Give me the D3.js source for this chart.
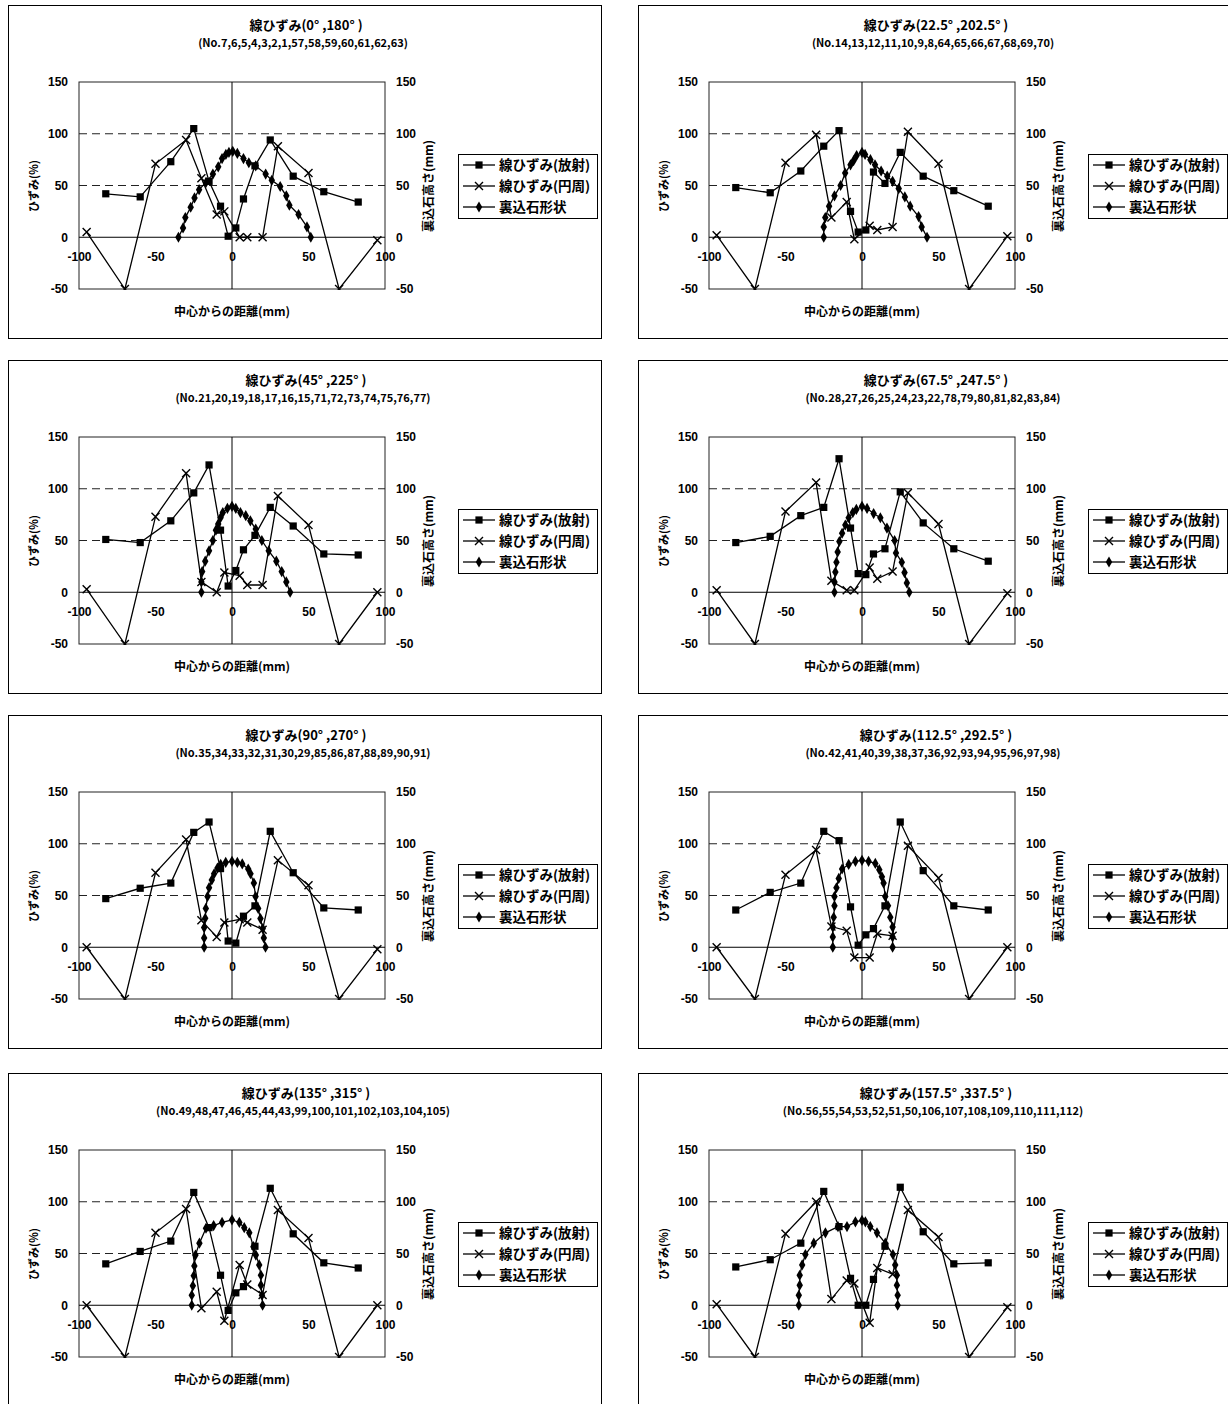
<!DOCTYPE html>
<html><head><meta charset="utf-8">
<script src="https://cdn.jsdelivr.net/npm/d3@7"></script>
<style>
body{margin:0;background:#fff;}
svg{display:block;}
</style></head>
<body>
<svg id="chart" width="1228" height="1404"></svg>
<script>
// ---- data ----
const titles = ["線ひずみ(0° ,180° )","線ひずみ(22.5° ,202.5° )","線ひずみ(45° ,225° )","線ひずみ(67.5° ,247.5° )",
  "線ひずみ(90° ,270° )","線ひずみ(112.5° ,292.5° )","線ひずみ(135° ,315° )","線ひずみ(157.5° ,337.5° )"];
const gaugeNos = ["(No.7,6,5,4,3,2,1,57,58,59,60,61,62,63)","(No.14,13,12,11,10,9,8,64,65,66,67,68,69,70)",
  "(No.21,20,19,18,17,16,15,71,72,73,74,75,76,77)","(No.28,27,26,25,24,23,22,78,79,80,81,82,83,84)",
  "(No.35,34,33,32,31,30,29,85,86,87,88,89,90,91)","(No.42,41,40,39,38,37,36,92,93,94,95,96,97,98)",
  "(No.49,48,47,46,45,44,43,99,100,101,102,103,104,105)","(No.56,55,54,53,52,51,50,106,107,108,109,110,111,112)"];
const seriesNames = ["線ひずみ(放射)","線ひずみ(円周)","裏込石形状"];
const xTicks = [-100,-50,0,50,100];
const yTicks = [-50,0,50,100,150];
const gridValues = [50,100];

const radialX = [-82.5,-60,-40,-25,-15,-7.5,-2.5,2.5,7.5,15,25,40,60,82.5];
const circX = [-95,-70,-50,-30,-20,-10,-5,5,10,20,30,50,70,95];

const radial1 = [42,39,73,105,54,30,1,9,37,69,94,59,44,34];
const radial2 = [48,43,64,88,103,25,5,7,63,52,82,59,45,30];
const radial3 = [51,48,69,96,123,60,6,21,41,55,82,64,37,36];
const radial4 = [48,54,74,82,129,62,18,17,37,42,97,67,42,30];
const radial5 = [47,57,62,111,121,76,6,4,30,40,112,72,38,36];
const radial6 = [36,53,62,112,103,39,2,12,18,40,121,74,40,36];
const radial7 = [40,52,62,109,75,29,-5,12,18,57,113,69,41,36];
const radial8 = [37,44,60,110,76,26,0,0,25,57,114,71,40,41];

const circ1 = [5,-50,71,94,57,22,25,0,0,0,88,62,-50,-3];
const circ2 = [2,-50,72,99,19,34,-2,11,7,10,102,71,-50,1];
const circ3 = [3,-50,73,115,10,0,19,16,7,7,93,65,-50,0];
const circ4 = [2,-50,78,106,11,2,2,24,13,20,96,66,-50,-1];
const circ5 = [0,-50,72,104,26,10,24,27,24,17,84,60,-50,-2];
const circ6 = [0,-50,70,94,20,16,-10,-10,13,11,98,67,-50,0];
const circ7 = [0,-50,70,93,-3,13,-15,39,20,10,92,65,-50,0];
const circ8 = [1,-50,69,100,6,24,21,-17,36,30,92,66,-50,-2];

const stoneX1 = [-35,-32,-30.5,-27,-24.5,-21.5,-17,-12.5,-9,-6.5,-4,-2,0.5,3.5,7.5,11,15.5,22,26,31.5,35.5,37.5,43.5,49,51.5];
const stoneY1 = [0,9,19,29,38,46,53,61,68,76,80,82,83,81,76,72,69,61,55,49,40,31,22,10,0];
const stoneX2 = [-25,-25,-24,-21.5,-18,-14,-11,-7.5,-5.5,-3.5,0,2,5.5,8.5,12.5,16.5,20,24,28,31.5,37,39,42.5];
const stoneY2 = [0,10,19,30,40,50,62,70,74,79,82,80,75,70,64,59,54,47,39,30,20,10,0];
const stoneX3 = [-20,-20,-19.5,-17.5,-15,-12.5,-10.5,-9,-7.5,-6,-3,0,2.5,5.5,9,12,15.5,19.5,24,29,32.5,35.5,38];
const stoneY3 = [0,10,20,30,40,50,60,66,72,77,81,83,81,77,74,69,61,50,40,30,20,10,0];
const stoneX4 = [-18,-18,-17.4,-16.7,-15.9,-14.8,-13,-10.9,-8.7,-6,-3.7,0,3.3,7.6,12,16.3,21.3,22.2,26,27.8,29.3,30.9];
const stoneY4 = [0,10,19.5,29,39,49,57,65,72,77,80,83,81,76,72,62,50,38,29,19,9,0];
const stoneX5 = [-18.2,-18.2,-18.2,-17.5,-17.1,-16,-15,-13.2,-11.7,-9.5,-7.4,-4.1,0,3.5,6.7,10.6,12.1,14.3,15.4,17.1,18.6,20.1,20.8,21.9];
const stoneY5 = [0,9,19,28,37.5,49,57.6,65,71,76.5,80,82,83,82,80.5,75.6,71,62,49,37.5,27.7,18,9,0];
const stoneX6 = [-19.1,-19.1,-19.1,-18.5,-18,-18,-16.7,-15.2,-13,-8.7,-4.3,0,4.3,8.7,11.3,13,14.1,15.2,17,18.5,20,20,20];
const stoneY6 = [0,10,19.5,29,40,49,57.5,66.5,75.6,80,83,84,83,81,75,68,62,49,40,29,19.5,10,0];
const stoneX7 = [-26.3,-26.3,-25.6,-25,-24.6,-23.9,-21.3,-17,-12,-6.5,0,4.8,8,11.3,14,15.6,17.8,18.9,18.9,19.6,20];
const stoneY7 = [0,9.7,18.8,28.5,38,48.5,60,74.4,77,80,82.5,80,75,70,56.6,48.5,39,29,19.4,9.7,0];
const stoneX8 = [-41.3,-41.3,-40.7,-40.7,-39.1,-37,-31.5,-23.9,-15.7,-9.8,-4.3,0,2.2,5.4,9.8,15.2,20.2,21.7,22.8,22.8,23.3,23.3];
const stoneY8 = [0,9.7,19.4,29,39,49,60,70,76,76,80.6,82,80.6,76,70,60,49,39,29,19.4,9.7,0];

const radialSets = [radial1,radial2,radial3,radial4,radial5,radial6,radial7,radial8];
const circSets = [circ1,circ2,circ3,circ4,circ5,circ6,circ7,circ8];
const stoneXSets = [stoneX1,stoneX2,stoneX3,stoneX4,stoneX5,stoneX6,stoneX7,stoneX8];
const stoneYSets = [stoneY1,stoneY2,stoneY3,stoneY4,stoneY5,stoneY6,stoneY7,stoneY8];

// ---- layout ----
const svg = d3.select("#chart");
const panelW = 593, panelH = 333;
const colX = [8, 638];
const rowY = [5, 360, 715, 1073];
const plot = {left: 71, top: 77, w: 306, h: 207};
const CJK = "'Noto Sans CJK JP','Noto Sans',sans-serif";
const NUM = "'Liberation Sans',Arial,sans-serif";

const x = d3.scaleLinear().domain([-100,100]).range([0, plot.w]);
const y = d3.scaleLinear().domain([-50,150]).range([plot.h, 0]);
const yR = d3.scaleLinear().domain([-50,150]).range([plot.h, 0]);

const sqPath = d3.symbol().type(d3.symbolSquare).size(52)();
const diPath = d3.symbol().type(d3.symbolDiamond).size(36)();
const xPath = "M-4,-4L4,4M-4,4L4,-4";

const defs = svg.append("defs");
defs.append("clipPath").attr("id","plotclip").append("rect")
  .attr("x",-1).attr("y",-1).attr("width",plot.w+2).attr("height",plot.h+2);

titles.forEach((t, i) => {
  const g = svg.append("g").attr("transform", `translate(${colX[i%2]},${rowY[Math.floor(i/2)]})`);
  g.append("rect").attr("x",0.5).attr("y",0.5).attr("width",panelW).attr("height",panelH)
    .attr("fill","#fff").attr("stroke","#000").attr("stroke-width",1);

  g.append("text").attr("x",298).attr("y",25).attr("text-anchor","middle")
    .attr("font-family",CJK).attr("font-weight","bold").attr("font-size",13).text(t);
  g.append("text").attr("x",295).attr("y",42).attr("text-anchor","middle")
    .attr("font-family",CJK).attr("font-weight","bold").attr("font-size",11).text(gaugeNos[i]);

  const p = g.append("g").attr("transform",`translate(${plot.left},${plot.top})`);
  p.append("rect").attr("width",plot.w).attr("height",plot.h).attr("fill","#fff")
    .attr("stroke","#222").attr("stroke-width",1);
  gridValues.forEach(v => {
    p.append("line").attr("x1",0).attr("x2",plot.w).attr("y1",y(v)).attr("y2",y(v))
      .attr("stroke","#222").attr("stroke-width",1).attr("stroke-dasharray","8,5");
  });
  p.append("line").attr("x1",x(0)).attr("x2",x(0)).attr("y1",0).attr("y2",plot.h)
    .attr("stroke","#000").attr("stroke-width",1);
  p.append("line").attr("x1",0).attr("x2",plot.w).attr("y1",y(0)).attr("y2",y(0))
    .attr("stroke","#000").attr("stroke-width",1);

  // axes (labels only)
  const axL = p.append("g").call(d3.axisLeft(y).tickValues(yTicks).tickSize(0).tickPadding(11).tickFormat(d=>String(d)));
  const axR = p.append("g").attr("transform",`translate(${plot.w},0)`)
    .call(d3.axisRight(yR).tickValues(yTicks).tickSize(0).tickPadding(11).tickFormat(d=>String(d)));
  const axB = p.append("g").attr("transform",`translate(0,${y(0)})`)
    .call(d3.axisBottom(x).tickValues(xTicks).tickSize(0).tickPadding(15).tickFormat(d=>String(d)));
  [axL,axR,axB].forEach(a => {
    a.select(".domain").remove();
    a.selectAll("text").attr("font-family",NUM).attr("font-weight","bold").attr("font-size",12).attr("fill","#000");
  });

  const line = d3.line().x(d=>x(d[0])).y(d=>y(d[1]));
  const lineR = d3.line().x(d=>x(d[0])).y(d=>yR(d[1]));
  const radial = radialX.map((v,k)=>[v, radialSets[i][k]]);
  const circ = circX.map((v,k)=>[v, circSets[i][k]]);
  const stone = stoneXSets[i].map((v,k)=>[v, stoneYSets[i][k]]);

  const data = p.append("g").attr("clip-path","url(#plotclip)");
  data.append("path").attr("d",line(circ)).attr("fill","none").attr("stroke","#000").attr("stroke-width",1.3);
  data.append("path").attr("d",line(radial)).attr("fill","none").attr("stroke","#000").attr("stroke-width",1.3);
  data.append("path").attr("d",lineR(stone)).attr("fill","none").attr("stroke","#000").attr("stroke-width",1.3);

  data.selectAll(".sq").data(radial).join("path").attr("d",sqPath)
    .attr("transform",d=>`translate(${x(d[0])},${y(d[1])})`).attr("fill","#000");
  data.selectAll(".xm").data(circ).join("path").attr("d",xPath)
    .attr("transform",d=>`translate(${x(d[0])},${y(d[1])})`).attr("fill","none").attr("stroke","#000").attr("stroke-width",1.4);
  data.selectAll(".di").data(stone).join("path").attr("d",diPath)
    .attr("transform",d=>`translate(${x(d[0])},${yR(d[1])})`).attr("fill","#000");

  // axis titles
  g.append("text").attr("x",plot.left + x(0)).attr("y",311).attr("text-anchor","middle")
    .attr("font-family",CJK).attr("font-weight","bold").attr("font-size",12).text("中心からの距離(mm)");
  g.append("text").attr("transform","translate(30,181) rotate(-90)").attr("text-anchor","middle")
    .attr("font-family",CJK).attr("font-weight","bold").attr("font-size",11).text("ひずみ(%)");
  g.append("text").attr("transform","translate(425,181) rotate(-90)").attr("text-anchor","middle")
    .attr("font-family",CJK).attr("font-weight","bold").attr("font-size",12).text("裏込石高さ(mm)");

  // legend
  const lg = g.append("g").attr("transform","translate(450,149)");
  lg.append("rect").attr("x",0.5).attr("y",0.5).attr("width",139).attr("height",64)
    .attr("fill","#fff").attr("stroke","#000").attr("stroke-width",1);
  const marks = [sqPath, xPath, diPath];
  seriesNames.forEach((n,k) => {
    const ry = 11 + k*21;
    lg.append("line").attr("x1",5).attr("x2",37).attr("y1",ry).attr("y2",ry).attr("stroke","#000").attr("stroke-width",1.3);
    const m = lg.append("path").attr("d",marks[k]).attr("transform",`translate(21,${ry})`);
    if (k===1) m.attr("fill","none").attr("stroke","#000").attr("stroke-width",1.4); else m.attr("fill","#000");
    lg.append("text").attr("x",41).attr("y",ry+5).attr("font-family",CJK).attr("font-weight","bold")
      .attr("font-size",13.5).text(n);
  });
});
</script>
</body></html>
